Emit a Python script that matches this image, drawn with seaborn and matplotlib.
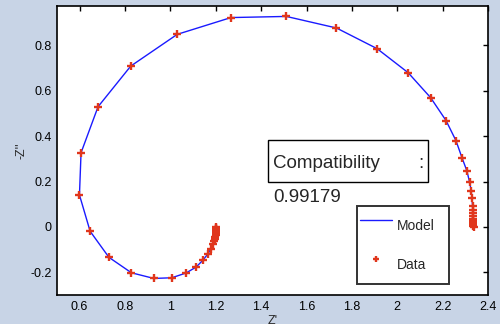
import matplotlib
matplotlib.use('Agg')
import matplotlib.pyplot as plt
import seaborn as sns
import pandas as pd
import numpy as np
from matplotlib.lines import Line2D
from matplotlib.patches import Rectangle

# Impedance spectrum (Z', -Z'')
z_real = [1.203, 1.203, 1.202, 1.202, 1.201, 1.200, 1.199, 1.197, 1.195, 1.192,
          1.187, 1.178, 1.165, 1.143, 1.113, 1.069, 1.006, 0.927, 0.828, 0.729,
          0.646, 0.599, 0.606, 0.681, 0.825, 1.030, 1.267, 1.511, 1.732, 1.911,
          2.048, 2.147, 2.215, 2.259, 2.285, 2.307, 2.319, 2.326, 2.329, 2.332,
          2.333, 2.334, 2.335, 2.335, 2.336, 2.336, 2.336, 2.336, 2.337]
z_imag = [0.000, -0.004, -0.009, -0.014, -0.020, -0.027, -0.035, -0.044, -0.054, -0.064,
          -0.076, -0.097, -0.119, -0.147, -0.177, -0.203, -0.224, -0.227, -0.202, -0.134,
          -0.019, 0.141, 0.327, 0.530, 0.709, 0.849, 0.923, 0.928, 0.877, 0.786,
          0.680, 0.570, 0.469, 0.380, 0.306, 0.247, 0.197, 0.160, 0.127, 0.094,
          0.075, 0.060, 0.047, 0.036, 0.027, 0.019, 0.012, 0.006, 0.001]
compatibility = "0.99179"
x_ticks = [0.6, 0.8, 1.0, 1.2, 1.4, 1.6, 1.8, 2.0, 2.2, 2.4]
x_labels = ["0.6", "0.8", "1", "1.2", "1.4", "1.6", "1.8", "2", "2.2", "2.4"]
y_ticks = [-0.2, 0.0, 0.2, 0.4, 0.6, 0.8]
y_labels = ["-0.2", "0", "0.2", "0.4", "0.6", "0.8"]

df = pd.DataFrame({"zr": z_real, "zi": z_imag})

sns.set_style("white")
plt.rcParams['font.family'] = ['Liberation Sans', 'DejaVu Sans']

bg = "#c8d4e6"
line_color = "#1a1aff"
dot_color = "#e0361c"

fig = plt.figure(figsize=(5.0, 3.24), dpi=100, facecolor=bg)
ax = fig.add_axes([0.114, 0.0895, 0.862, 0.892], facecolor="white")

sns.lineplot(x="zr", y="zi", data=df, sort=False, estimator=None,
             color=line_color, linewidth=1.0, ax=ax)
sns.scatterplot(x="zr", y="zi", data=df, marker="+", s=28, color=dot_color,
                linewidth=1.7, ax=ax, zorder=3)

ax.set_xlim(0.5, 2.4)
ax.set_ylim(-0.3, 0.974)
ax.set_xticks(x_ticks)
ax.set_xticklabels(x_labels)
ax.set_yticks(y_ticks)
ax.set_yticklabels(y_labels)
ax.tick_params(direction="in", length=3.5, width=1.0, top=True, right=True,
               labelsize=9, pad=4, colors="black")
for s in ax.spines.values():
    s.set_visible(True)
    s.set_color("black")
    s.set_linewidth(1.2)

ax.set_xlabel("Z'", fontsize=9, labelpad=2)
ax.set_ylabel("-Z''", fontsize=9, labelpad=2)

# compatibility annotation
ax.add_patch(Rectangle((1.430, 0.199), 0.706, 0.185, fill=False,
                       edgecolor="black", linewidth=1.0, zorder=4))
ax.text(1.452, 0.280, "Compatibility", fontsize=13.5, va="center", ha="left", zorder=5)
ax.text(2.092, 0.280, ":", fontsize=13.5, va="center", ha="left", zorder=5)
ax.text(1.452, 0.128, compatibility, fontsize=13.5, va="center", ha="left", zorder=5)

handles = [Line2D([0], [0], color=line_color, linewidth=1.0),
           Line2D([0], [0], color=dot_color, marker="+", linestyle="none",
                  markersize=5, markeredgewidth=1.7)]
leg = ax.legend(handles, ["Model", "Data"], loc="lower left",
                bbox_to_anchor=(0.696, 0.038, 0.2135, 0.27), mode="expand",
                borderaxespad=0, fontsize=10,
                frameon=True, fancybox=False, labelspacing=0.5, borderpad=0.25,
                handlelength=2.3, handleheight=3.15, handletextpad=0.3)
leg.get_frame().set_edgecolor("black")
leg.get_frame().set_linewidth(1.4)

plt.savefig("out.png", dpi=100, facecolor=bg)
plt.close()
